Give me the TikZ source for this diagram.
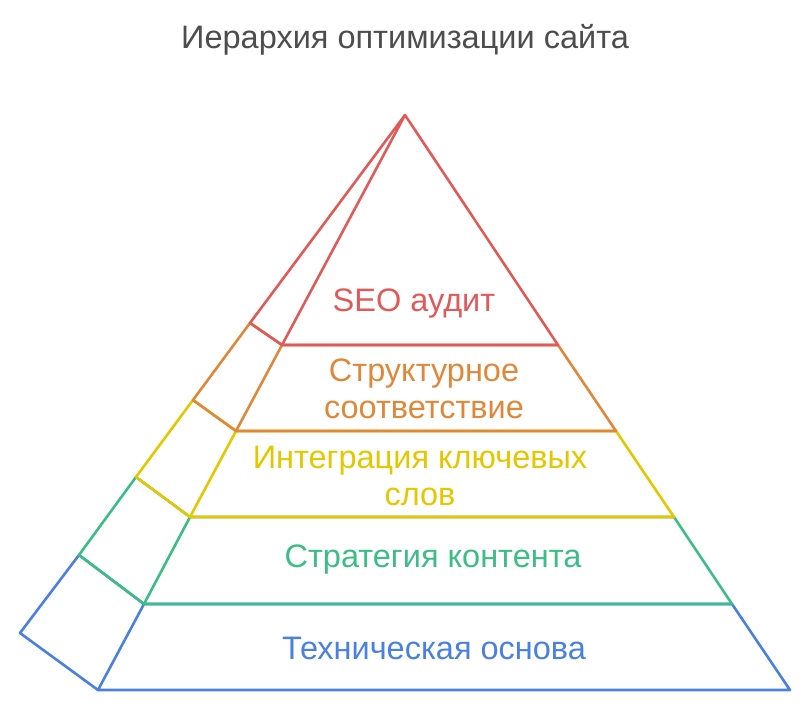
\documentclass[tikz,border=0pt]{standalone}
\usepackage{fontspec}
\setmainfont{Liberation Sans}
\usetikzlibrary{calc}
\definecolor{auditred}{HTML}{E05A5A}
\definecolor{structorange}{HTML}{E0883A}
\definecolor{keyyellow}{HTML}{E3C800}
\definecolor{contentgreen}{HTML}{3DBD86}
\definecolor{techblue}{HTML}{4A80E0}
\definecolor{titlegray}{HTML}{4D4D4D}

\begin{document}
\begin{tikzpicture}[x=1pt, y=-1pt, line width=2.6pt, line join=round,
    label/.style={font=\fontsize{32.5}{37}\selectfont, align=center, inner sep=0pt}]
  \useasboundingbox (0,0) rectangle (810,713);

  % front and side corners of the pyramid
  \coordinate (apex) at (405,115);
  \coordinate (l5) at (98,690);   \coordinate (r5) at (790,690);  \coordinate (s5) at (20,633);
  \coordinate (l4) at (144,604);  \coordinate (r4) at (732,604);  \coordinate (s4) at (79,555);
  \coordinate (l3) at (190,517);  \coordinate (r3) at (674,517);  \coordinate (s3) at (136,477);
  \coordinate (l2) at (236,431);  \coordinate (r2) at (616,431);  \coordinate (s2) at (193,400);
  \coordinate (l1) at (282,345);  \coordinate (r1) at (558,345);  \coordinate (s1) at (250,323);

  \node [text=titlegray, font=\fontsize{32.5}{37}\selectfont] (title) at (405,40) {Иерархия оптимизации сайта};

  % from the base up, so upper layers lie on top
  \draw [techblue] (l5) -- (r5) -- (r4) -- (l4) -- cycle;
  \draw [techblue] (l5) -- (s5) -- (s4) -- (l4);
  \node [label, text=techblue] (tech) at (434,648) {Техническая основа};

  \draw [contentgreen] (l4) -- (r4) -- (r3) -- (l3) -- cycle;
  \draw [contentgreen] (l4) -- (s4) -- (s3) -- (l3);
  \node [label, text=contentgreen] (content) at (433,560) {Стратегия контента};

  \draw [keyyellow] (l3) -- (r3) -- (r2) -- (l2) -- cycle;
  \draw [keyyellow] (l3) -- (s3) -- (s2) -- (l2);
  \node [label, text=keyyellow] (keys) at (420,476) {Интеграция ключевых\\слов};

  \draw [structorange] (l2) -- (r2) -- (r1) -- (l1) -- cycle;
  \draw [structorange] (l2) -- (s2) -- (s1) -- (l1);
  \node [label, text=structorange] (struct) at (424,389) {Структурное\\соответствие};

  \draw [auditred] (l1) -- (r1) -- (apex) -- cycle;
  \draw [auditred] (l1) -- (s1) -- (apex);
  \node [label, text=auditred] (audit) at (414,304) {SEO аудит};

\end{tikzpicture}
\end{document}
